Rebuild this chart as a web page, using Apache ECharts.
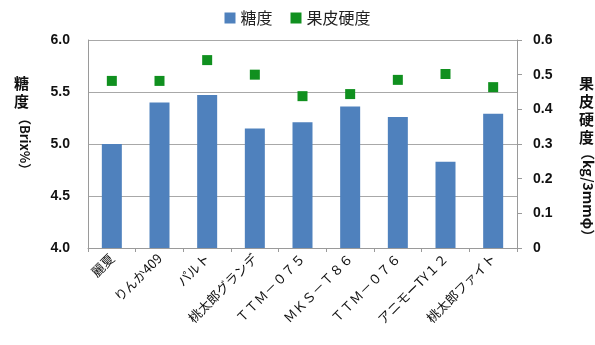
<!DOCTYPE html>
<html>
<head>
<meta charset="utf-8">
<script src="https://cdn.jsdelivr.net/npm/echarts@6/dist/echarts.min.js"></script>
<style>
  html, body { margin: 0; padding: 0; background: #fff; }
  #main { width: 595px; height: 345px; }
</style>
</head>
<body>
<div id="main"></div>
<script>
const categories = ['麗夏', 'りんか409', 'パルト', '桃太郎グランデ', 'ＴＴＭ－０７５', 'ＭＫＳ－Ｔ８６', 'ＴＴＭ－０７６', 'アニモーTY１２', '桃太郎ファイト']
const sugar = [5.00, 5.40, 5.47, 5.15, 5.21, 5.36, 5.26, 4.83, 5.29]
const hardness = [0.482, 0.482, 0.542, 0.500, 0.438, 0.444, 0.485, 0.502, 0.464]
const leftTicks = { min: 4.0, max: 6.0, interval: 0.5 }
const rightTicks = { min: 0, max: 0.6, interval: 0.1 }

const font = "'Noto Sans CJK JP', 'Noto Sans', sans-serif"
const chart = echarts.init(document.getElementById('main'))

chart.setOption({
  animation: false,
  textStyle: { fontFamily: font },
  legend: {
    top: 5,
    left: 'center',
    itemWidth: 11,
    itemHeight: 11,
    itemGap: 18,
    textStyle: { fontSize: 16, color: '#222', fontFamily: font },
    data: [
      { name: '糖度', icon: 'rect' },
      { name: '果皮硬度', icon: 'rect' },
    ],
  },
  grid: { left: 88, right: 78, top: 40, bottom: 97 },
  xAxis: {
    type: 'category',
    data: categories,
    axisLine: { lineStyle: { color: '#9a9a9a' } },
    axisTick: { show: true, length: 4, lineStyle: { color: '#9a9a9a' } },
    axisLabel: {
      rotate: 45,
      interval: 0,
      fontSize: 13,
      color: '#111',
      fontFamily: font,
      margin: 8,
    },
  },
  yAxis: [
    {
      type: 'value',
      min: leftTicks.min,
      max: leftTicks.max,
      interval: leftTicks.interval,
      axisLine: { show: true, lineStyle: { color: '#9a9a9a' } },
      axisTick: { show: false },
      splitLine: { lineStyle: { color: '#a8a8a8' } },
      axisLabel: {
        formatter: v => v.toFixed(1),
        fontSize: 14,
        fontWeight: 'bold',
        color: '#111',
        margin: 18,
        fontFamily: 'Liberation Sans, Arial, sans-serif',
      },
    },
    {
      type: 'value',
      min: rightTicks.min,
      max: rightTicks.max,
      interval: rightTicks.interval,
      axisLine: { show: true, lineStyle: { color: '#9a9a9a' } },
      axisTick: { show: true, length: 5, lineStyle: { color: '#9a9a9a' } },
      splitLine: { show: false },
      axisLabel: {
        formatter: v => (v === 0 ? '0' : v.toFixed(1)),
        fontSize: 14,
        fontWeight: 'bold',
        color: '#111',
        margin: 16,
        fontFamily: 'Liberation Sans, Arial, sans-serif',
      },
    },
  ],
  graphic: [
    {
      type: 'text',
      left: 14,
      top: 74,
      style: { text: '糖\n度', font: 'bold 15px ' + font, fill: '#111', lineHeight: 18 },
    },
    {
      type: 'text',
      x: 31,
      y: 112,
      rotation: -Math.PI / 2,
      style: { text: '（Brix%）', font: 'bold 13px ' + font, fill: '#111' },
    },
    {
      type: 'text',
      left: 579,
      top: 74,
      style: { text: '果\n皮\n硬\n度', font: 'bold 15px ' + font, fill: '#111', lineHeight: 18 },
    },
    {
      type: 'text',
      x: 595,
      y: 146,
      rotation: -Math.PI / 2,
      style: { text: '（kg/3mmφ）', font: 'bold 14px ' + font, fill: '#111' },
    },
  ],
  series: [
    {
      name: '糖度',
      type: 'bar',
      yAxisIndex: 0,
      data: sugar,
      barWidth: 20,
      itemStyle: { color: '#4f81bd' },
    },
    {
      name: '果皮硬度',
      type: 'scatter',
      yAxisIndex: 1,
      data: hardness,
      symbol: 'rect',
      symbolSize: 10,
      itemStyle: { color: '#10901f', opacity: 1 },
    },
  ],
})
</script>
</body>
</html>
